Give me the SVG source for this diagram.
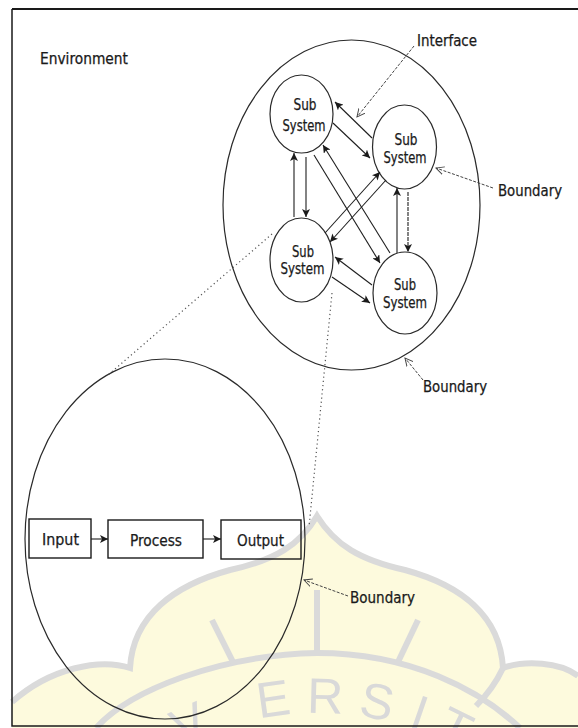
<svg xmlns="http://www.w3.org/2000/svg" width="578" height="728" viewBox="0 0 578 728">
<style>
.t{font-family:"DejaVu Sans Condensed","DejaVu Sans","Liberation Sans",sans-serif;fill:#1a1a1a;stroke:#1a1a1a;stroke-width:0.25;}
.ln{stroke:#1e1e1e;stroke-width:1.1;fill:none;}
.ell{stroke:#2a2a2a;stroke-width:1.2;fill:none;}
.ptr{stroke:#444;stroke-width:1;stroke-dasharray:3 1.5;fill:none;}
.dot{stroke:#555;stroke-width:1.2;stroke-dasharray:1.2 3;fill:none;}
.wm{stroke:#dadada;stroke-width:6;fill:none;}
.wl{font-family:"Liberation Sans",sans-serif;font-size:50px;fill:#d9d9d9;}
.box{stroke:#1a1a1a;stroke-width:1.4;fill:none;}
</style>
<defs>
<marker id="ah" markerUnits="userSpaceOnUse" markerWidth="9" markerHeight="8" refX="8" refY="4" orient="auto">
<path d="M0,0 L8,4 L0,8 L2,4 Z" fill="#1a1a1a"/>
</marker>
<marker id="oh" markerUnits="userSpaceOnUse" markerWidth="9" markerHeight="9" refX="8" refY="4.5" orient="auto">
<path d="M0,0.5 L8,4.5 L0,8.5" fill="none" stroke="#444" stroke-width="1"/>
</marker>
</defs>
<rect x="0" y="0" width="578" height="728" fill="#ffffff"/>
<g id="watermark">
<path d="M12,702 C50,668 100,658 130,668 C133,615 175,585 230,570 C275,560 300,545 317,516 C335,545 360,560 405,570 C460,585 500,615 503,668 C525,660 560,662 578,676 L578,728 L12,728 Z" fill="#fdfadd"/>
<path class="wm" d="M12,702 C50,668 100,658 130,668 C133,615 175,585 230,570 C275,560 300,545 317,516 C335,545 360,560 405,570 C460,585 500,615 503,668 C525,660 560,662 578,676"/>
<path class="wm" d="M96,728 C130,690 220,655 317,653 C410,653 480,690 520,728"/>
<path class="wm" d="M317,590 L317,652"/>
<path class="wm" d="M212,620 L233,662"/>
<path class="wm" d="M418,620 L398,662"/>
<path class="wm" d="M503,668 C495,685 485,697 476,706"/>
<text class="wl" x="317" y="713" text-anchor="middle" transform="rotate(-24 317 1011)">V</text>
<text class="wl" x="317" y="713" text-anchor="middle" transform="rotate(-8 317 1011)">E</text>
<text class="wl" x="317" y="713" text-anchor="middle" transform="rotate(1.5 317 1011)">R</text>
<text class="wl" x="317" y="713" text-anchor="middle" transform="rotate(11 317 1011)">S</text>
<text class="wl" x="317" y="713" text-anchor="middle" transform="rotate(19 317 1011)">I</text>
<text class="wl" x="317" y="713" text-anchor="middle" transform="rotate(26 317 1011)">T</text>
</g>
<g id="frame">
<path d="M12,9 L578,9" stroke="#1a1a1a" stroke-width="2" fill="none"/>
<path d="M12,9 L12,726 L578,726" stroke="#1a1a1a" stroke-width="1.5" fill="none"/>
</g>
<g id="environment"><text class="t" x="40" y="64" font-size="15.5" textLength="88" lengthAdjust="spacingAndGlyphs">Environment</text></g>
<g id="system-boundary"><ellipse class="ell" cx="351.5" cy="205" rx="128.5" ry="165"/></g>
<g id="io-boundary"><ellipse class="ell" cx="165" cy="539" rx="140" ry="180"/></g>
<g id="subsystem1">
<ellipse class="ell" cx="301.5" cy="114" rx="31.5" ry="39"/>
<text class="t" x="305" y="110" font-size="15" text-anchor="middle" textLength="23" lengthAdjust="spacingAndGlyphs">Sub</text>
<text class="t" x="304" y="131" font-size="15" text-anchor="middle" textLength="43" lengthAdjust="spacingAndGlyphs">System</text>
</g>
<g id="subsystem2">
<ellipse class="ell" cx="404.5" cy="147" rx="32" ry="42"/>
<text class="t" x="406" y="145" font-size="15" text-anchor="middle" textLength="23" lengthAdjust="spacingAndGlyphs">Sub</text>
<text class="t" x="405" y="163" font-size="15" text-anchor="middle" textLength="43" lengthAdjust="spacingAndGlyphs">System</text>
</g>
<g id="subsystem3">
<ellipse class="ell" cx="301.5" cy="260" rx="31.5" ry="42"/>
<text class="t" x="303" y="257" font-size="15" text-anchor="middle" textLength="22" lengthAdjust="spacingAndGlyphs">Sub</text>
<text class="t" x="302.5" y="274" font-size="15" text-anchor="middle" textLength="44" lengthAdjust="spacingAndGlyphs">System</text>
</g>
<g id="subsystem4">
<ellipse class="ell" cx="405" cy="293" rx="32" ry="41"/>
<text class="t" x="405" y="290" font-size="15" text-anchor="middle" textLength="22" lengthAdjust="spacingAndGlyphs">Sub</text>
<text class="t" x="405" y="308" font-size="15" text-anchor="middle" textLength="44" lengthAdjust="spacingAndGlyphs">System</text>
</g>
<g id="input">
<rect class="box" x="29" y="519" width="62" height="39"/>
<text class="t" x="60.5" y="545" font-size="16" text-anchor="middle" textLength="37" lengthAdjust="spacingAndGlyphs">Input</text>
</g>
<g id="process">
<rect class="box" x="108" y="520" width="95" height="38"/>
<text class="t" x="156" y="546" font-size="16" text-anchor="middle" textLength="52" lengthAdjust="spacingAndGlyphs">Process</text>
</g>
<g id="output">
<rect class="box" x="221" y="520" width="80" height="39"/>
<text class="t" x="260.5" y="546" font-size="16" text-anchor="middle" textLength="47" lengthAdjust="spacingAndGlyphs">Output</text>
</g>
<g id="labels">
<text class="t" x="417" y="46" font-size="15.5" textLength="60" lengthAdjust="spacingAndGlyphs">Interface</text>
<text class="t" x="498" y="196" font-size="15.5" textLength="64" lengthAdjust="spacingAndGlyphs">Boundary</text>
<text class="t" x="423" y="392" font-size="15.5" textLength="64" lengthAdjust="spacingAndGlyphs">Boundary</text>
<text class="t" x="350" y="603" font-size="15.5" textLength="65" lengthAdjust="spacingAndGlyphs">Boundary</text>
</g>
<g id="connectors">
<line class="ln" x1="372" y1="138" x2="335" y2="102" marker-end="url(#ah)"/>
<line class="ln" x1="333" y1="123" x2="370" y2="158" marker-end="url(#ah)"/>
<line class="ln" x1="294" y1="217" x2="294" y2="153" marker-end="url(#ah)"/>
<line class="ln" x1="306" y1="157" x2="306" y2="217" marker-end="url(#ah)"/>
<line class="ln" x1="390" y1="253" x2="323" y2="145" marker-end="url(#ah)"/>
<line class="ln" x1="314" y1="155" x2="380" y2="263" marker-end="url(#ah)"/>
<line class="ln" x1="325" y1="233" x2="380" y2="172" marker-end="url(#ah)"/>
<line class="ln" x1="386" y1="180" x2="330" y2="242" marker-end="url(#ah)"/>
<line class="ln" x1="397" y1="253" x2="397" y2="188" marker-end="url(#ah)"/>
<line class="ln" x1="408" y1="192" x2="408" y2="252" marker-end="url(#ah)" stroke-dasharray="4 1"/>
<line class="ln" x1="372" y1="285" x2="335" y2="257" marker-end="url(#ah)"/>
<line class="ln" x1="332" y1="277" x2="370" y2="303" marker-end="url(#ah)"/>
<line class="ln" x1="91" y1="539" x2="108" y2="539" marker-end="url(#ah)"/>
<line class="ln" x1="203" y1="539" x2="221" y2="539" marker-end="url(#ah)"/>
<line class="ptr" x1="414" y1="46" x2="357" y2="117" marker-end="url(#oh)"/>
<line class="ptr" x1="493" y1="188" x2="436" y2="168" marker-end="url(#oh)"/>
<line class="ptr" x1="423" y1="380" x2="405" y2="358" marker-end="url(#oh)"/>
<line class="ptr" x1="348" y1="596" x2="304" y2="580" marker-end="url(#oh)"/>
<line class="dot" x1="272" y1="234" x2="108" y2="375"/>
<line class="dot" x1="332" y1="293" x2="309" y2="527"/>
</g>
</svg>
